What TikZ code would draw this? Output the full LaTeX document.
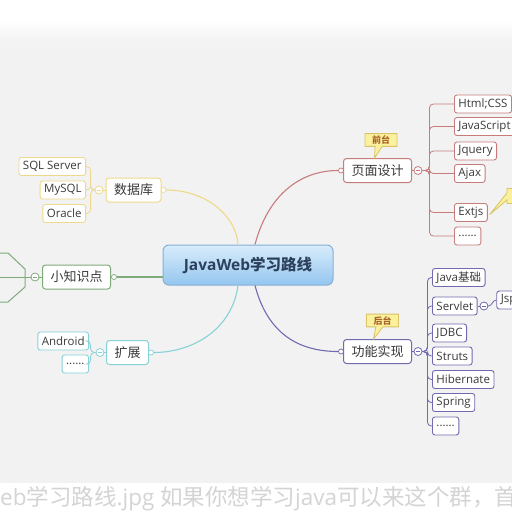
\documentclass[tikz,border=0pt]{standalone}
\usepackage{fontspec}
\setmainfont{Open Sans}
\newfontfamily\cjk{Noto Sans CJK SC}
\usetikzlibrary{shapes.callouts, positioning}

\definecolor{bgray}{HTML}{F2F2F2}
\definecolor{dbline}{HTML}{EED98A}
\definecolor{kpline}{HTML}{7FAA7A}
\definecolor{extline}{HTML}{86D2D8}
\definecolor{ymline}{HTML}{C77B7B}
\definecolor{gnline}{HTML}{6F6BAE}
\definecolor{rootedge}{HTML}{86B0D6}
\definecolor{roottop}{HTML}{D8ECFC}
\definecolor{rootbot}{HTML}{94C6EF}
\definecolor{roottext}{HTML}{2C405C}
\definecolor{tipfill}{HTML}{FBF19C}
\definecolor{tipedge}{HTML}{D9C267}
\definecolor{tiptext}{HTML}{A8652A}
\definecolor{boxtext}{HTML}{3A3A3A}
\definecolor{foottext}{HTML}{D4D4D4}

\tikzset{
  topic/.style={draw=#1, line width=1pt, fill=white, rounded corners=3pt, minimum height=24pt, inner xsep=8pt, font=\cjk\fontsize{13}{15}\selectfont, text=boxtext},
  leaf/.style={draw=#1, line width=0.9pt, fill=white, rounded corners=2.5pt, minimum height=18pt, inner xsep=4pt, inner ysep=1pt, font=\fontsize{11.5}{13}\selectfont, text=boxtext},
  fold/.style={circle, draw=#1, fill=white, line width=0.8pt, minimum size=8pt, inner sep=0pt,
    path picture={\draw[#1, line width=0.8pt] ([xshift=2pt]path picture bounding box.west) -- ([xshift=-2pt]path picture bounding box.east);}},
  knob/.style={circle, draw=#1, fill=white, line width=0.7pt, minimum size=5pt, inner sep=0pt},
  tip/.style={rectangle callout, draw=tipedge, fill=tipfill, line width=0.8pt, inner xsep=7pt, inner ysep=2pt, font=\cjk\bfseries\fontsize{9}{11}\selectfont, text=tiptext},
  branch/.style={draw=#1, line width=1.1pt},
  twig/.style={draw=#1, line width=0.8pt, rounded corners=4pt},
}

\begin{document}
\begin{tikzpicture}[x=1pt, y=-1pt]
\useasboundingbox (0,0) rectangle (512,512);
\clip (0,0) rectangle (512,512);

% Background
\fill[white] (0,0) rectangle (512,512);
\shade[top color=white, bottom color=bgray] (0,20) rectangle (512,42);
\fill[bgray] (0,42) rectangle (512,483);

% Root
\node[draw=rootedge, line width=1pt, rounded corners=6pt, top color=roottop, bottom color=rootbot,
  minimum width=170pt, minimum height=40pt, font=\bfseries\fontsize{15.5}{18}\selectfont, text=roottext] (root) at (248,265) {JavaWeb{\cjk 学习路线}};

% Left topics
\node[topic=dbline] (db) at (133.5,190) {数据库};
\node[topic=kpline] (kp) at (76.5,277) {小知识点};
\node[topic=extline] (ext) at (127.5,352.5) {扩展};

\node[fold=dbline] (dbfold) at (99,190) {};
\node[fold=kpline] (kpfold) at (35,277) {};
\node[fold=extline] (extfold) at (100,352.5) {};

\node[leaf=dbline, anchor=east] (sql) at (86,166.5) {SQL Server};
\node[leaf=dbline, anchor=east] (mysql) at (86,190) {MySQL};
\node[leaf=dbline, anchor=east] (oracle) at (86,213.5) {Oracle};

\node[leaf=extline, anchor=east] (android) at (89,341) {Android};
\node[leaf=extline, anchor=east] (extdots) at (89,364) {......};

% Right topics
\node[topic=ymline] (ym) at (377.5,170.5) {页面设计};
\node[topic=gnline] (gn) at (377.5,351.5) {功能实现};
\node[fold=ymline] (ymfold) at (418,170.5) {};
\node[fold=gnline] (gnfold) at (418,351.5) {};

\node[tip, callout absolute pointer={([xshift=-3pt]ym.north)}] (qiantai) at (381,140) {前台};
\node[tip, callout absolute pointer={([xshift=-4pt]gn.north)}] (houtai) at (382.5,320.5) {后台};

\node[leaf=ymline, anchor=west] (html) at (454,104) {Html;CSS};
\node[leaf=ymline, anchor=west] (js) at (454,126.5) {JavaScript};
\node[leaf=ymline, anchor=west] (jq) at (454,151) {Jquery};
\node[leaf=ymline, anchor=west] (ajax) at (454,173.5) {Ajax};
\node[leaf=ymline, anchor=west] (extjs) at (454,212.5) {Extjs};
\node[leaf=ymline, anchor=west] (ymdots) at (454,236) {......};
\node[tip, minimum width=22pt, minimum height=15pt, callout absolute pointer={([xshift=2pt,yshift=-2pt]extjs.east)}] (extjstip) at (518,196) {};

\node[leaf=gnline, anchor=west] (javabase) at (432,277.5) {Java{\cjk 基础}};
\node[leaf=gnline, anchor=west] (servlet) at (432,306) {Servlet};
\node[leaf=gnline, anchor=west] (jdbc) at (432,333) {JDBC};
\node[leaf=gnline, anchor=west] (struts) at (432,356) {Struts};
\node[leaf=gnline, anchor=west] (hib) at (432,379.5) {Hibernate};
\node[leaf=gnline, anchor=west] (spring) at (432,402.5) {Spring};
\node[leaf=gnline, anchor=west] (gndots) at (432,426) {......};
\node[fold=gnline, right=2pt of servlet] (svfold) {};
\node[leaf=gnline, anchor=west] (jsp) at ([xshift=8pt,yshift=6pt]svfold.east) {Jsp};

% Knobs on the branch ends
\node[knob=dbline] (dbknob) at ([xshift=2pt]db.east) {};
\node[knob=kpline] (kpknob) at ([xshift=3pt]kp.east) {};
\node[knob=extline] (extknob) at ([xshift=2pt]ext.east) {};
\node[knob=ymline] (ymknob) at ([xshift=-2pt]ym.west) {};
\node[knob=gnline] (gnknob) at ([xshift=-2pt]gn.west) {};

% Main branches
\draw[branch=dbline] ([xshift=-10pt]root.north) .. controls (236,215) and (205,190) .. (dbknob);
\draw[branch=kpline] ([yshift=-12pt]root.west) -- (kpknob);
\draw[branch=extline] ([xshift=-10pt]root.south) .. controls (232,330) and (192,352.5) .. (extknob);
\draw[branch=ymline] ([xshift=7pt]root.north) .. controls (268,195) and (300,170.5) .. (ymknob);
\draw[branch=gnline] ([xshift=7pt]root.south) .. controls (268,335) and (300,351.5) .. (gnknob);

% Sub branches
\draw[twig=dbline] (db.west) -- (dbfold);
\foreach \leaf in {sql, mysql, oracle}
  \draw[twig=dbline] (dbfold.west) -- ++(-4,0) |- (\leaf.east);
\draw[twig=extline] (ext.west) -- (extfold);
\foreach \leaf in {android, extdots}
  \draw[twig=extline] (extfold.west) -- ++(-5,0) |- (\leaf.east);
\draw[twig=ymline] (ym.east) -- (ymfold);
\foreach \leaf in {html, js, jq, ajax, extjs, ymdots}
  \draw[twig=ymline] (ymfold.east) -- ++(7,0) |- (\leaf.west);
\draw[twig=gnline] (gn.east) -- (gnfold);
\foreach \leaf in {javabase, servlet, jdbc, struts, hib, spring, gndots}
  \draw[twig=gnline] (gnfold.east) -- ++(5,0) |- (\leaf.west);
\draw[twig=gnline] (servlet.east) -- (svfold);
\draw[twig=gnline] (svfold.east) .. controls ++(4,0) and ++(-4,0) .. (jsp.west);

% Small knowledge points, folded off to the left
\coordinate (kpedge) at (0,277);
\draw[twig=kpline] (kp.west) -- (kpfold);
\draw[twig=kpline] (kpfold.west) -- (kpedge);
\draw[kpline, line width=1pt] (0,253) -- (8,253) -- (25,269) -- (25,287) -- (8,302) -- (0,302);

% Caption strip
\node[anchor=base west, inner sep=0pt, font=\fontsize{22.5}{24}\selectfont, text=foottext] (caption) at (0,505) {eb{\cjk 学习路线}.jpg {\cjk 如果你想学习}java{\cjk 可以来这个群，首}};
\end{tikzpicture}
\end{document}
